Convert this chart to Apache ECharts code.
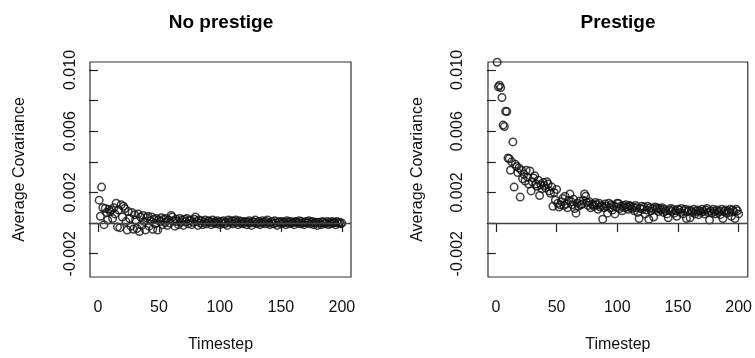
<!DOCTYPE html>
<html>
<head>
<meta charset="utf-8">
<script src="https://cdn.jsdelivr.net/npm/echarts@6/dist/echarts.min.js"></script>
<style>
html,body{margin:0;padding:0;background:#fff;}
#chart{width:755px;height:358px;}
</style>
</head>
<body>
<div id="chart"></div>
<script>
const timesteps = [1,2,3,4,5,6,7,8,9,10,11,12,13,14,15,16,17,18,19,20,
21,22,23,24,25,26,27,28,29,30,31,32,33,34,35,36,37,38,39,40,
41,42,43,44,45,46,47,48,49,50,51,52,53,54,55,56,57,58,59,60,
61,62,63,64,65,66,67,68,69,70,71,72,73,74,75,76,77,78,79,80,
81,82,83,84,85,86,87,88,89,90,91,92,93,94,95,96,97,98,99,100,
101,102,103,104,105,106,107,108,109,110,111,112,113,114,115,116,117,118,119,120,
121,122,123,124,125,126,127,128,129,130,131,132,133,134,135,136,137,138,139,140,
141,142,143,144,145,146,147,148,149,150,151,152,153,154,155,156,157,158,159,160,
161,162,163,164,165,166,167,168,169,170,171,172,173,174,175,176,177,178,179,180,
181,182,183,184,185,186,187,188,189,190,191,192,193,194,195,196,197,198,199,200];

const noPrestige = [
0.00150, 0.00045, 0.00235, 0.00100, -0.00010, 0.00095, 0.00070, 0.00020, 0.00090, 0.00075,
0.00085, 0.00030, 0.00100, 0.00060, 0.00130, -0.00025, 0.00085, -0.00030, 0.00120, 0.00040,
0.00110, 0.00095, 0.00010, -0.00045, 0.00075, 0.00030, -0.00020, 0.00070, -0.00040, 0.00055,
0.00020, -0.00035, 0.00060, -0.00055, 0.00040, -0.00015, 0.00050, 0.00010, -0.00045, 0.00035,
0.00045, -0.00020, 0.00015, 0.00040, -0.00040, 0.00025, -0.00005, 0.00030, -0.00045, 0.00020,
0.00010, 0.00035, -0.00010, 0.00025, 0.00005, 0.00030, -0.00015, 0.00020, 0.00000, 0.00050,
0.00040, 0.00015, -0.00020, 0.00025, 0.00010, -0.00010, 0.00030, 0.00005, 0.00020, -0.00015,
0.00025, 0.00010, 0.00030, -0.00005, 0.00015, 0.00020, -0.00010, 0.00005, 0.00025, 0.00040,
0.00010, -0.00015, 0.00020, 0.00000, 0.00015, -0.00010, 0.00005, 0.00020, -0.00005, 0.00010,
0.00015, 0.00005, -0.00010, 0.00020, 0.00000, 0.00010, -0.00005, 0.00015, 0.00005, -0.00010,
0.00010, 0.00000, 0.00015, -0.00005, 0.00005, -0.00015, 0.00020, 0.00010, 0.00000, 0.00015,
-0.00005, 0.00010, 0.00020, 0.00005, -0.00010, 0.00015, 0.00000, 0.00010, -0.00005, 0.00005,
0.00010, -0.00010, 0.00005, 0.00015, 0.00000, -0.00015, 0.00010, 0.00005, 0.00020, -0.00005,
0.00005, 0.00010, -0.00010, 0.00000, 0.00015, 0.00005, -0.00005, 0.00010, 0.00020, 0.00000,
-0.00010, 0.00005, 0.00010, -0.00005, 0.00015, 0.00000, -0.00015, 0.00005, 0.00010, -0.00005,
0.00010, 0.00000, 0.00005, -0.00010, 0.00015, 0.00005, -0.00005, 0.00010, 0.00000, 0.00005,
-0.00010, 0.00010, 0.00005, 0.00000, 0.00015, -0.00005, 0.00010, 0.00000, -0.00010, 0.00005,
0.00010, 0.00000, 0.00015, -0.00005, 0.00005, 0.00010, -0.00010, 0.00000, 0.00005, -0.00015,
0.00005, 0.00000, -0.00010, 0.00010, 0.00005, -0.00005, 0.00000, 0.00010, -0.00010, 0.00005,
-0.00005, 0.00010, 0.00000, 0.00005, -0.00010, 0.00010, 0.00000, 0.00005, -0.00005, 0.00000
];

const prestige = [
0.01050, 0.00890, 0.00900, 0.00885, 0.00820, 0.00640, 0.00630, 0.00730, 0.00728, 0.00425,
0.00420, 0.00345, 0.00400, 0.00530, 0.00235, 0.00385, 0.00370, 0.00330, 0.00360, 0.00170,
0.00345, 0.00290, 0.00320, 0.00275, 0.00345, 0.00300, 0.00255, 0.00340, 0.00210, 0.00270,
0.00295, 0.00310, 0.00255, 0.00240, 0.00280, 0.00180, 0.00250, 0.00225, 0.00265, 0.00245,
0.00230, 0.00270, 0.00255, 0.00210, 0.00195, 0.00235, 0.00110, 0.00200, 0.00150, 0.00220,
0.00130, 0.00105, 0.00120, 0.00140, 0.00160, 0.00115, 0.00175, 0.00125, 0.00100, 0.00150,
0.00190, 0.00140, 0.00120, 0.00155, 0.00095, 0.00065, 0.00130, 0.00110, 0.00145, 0.00120,
0.00125, 0.00150, 0.00190, 0.00175, 0.00135, 0.00115, 0.00140, 0.00100, 0.00125, 0.00120,
0.00110, 0.00135, 0.00120, 0.00090, 0.00130, 0.00105, 0.00115, 0.00025, 0.00100, 0.00125,
0.00110, 0.00065, 0.00130, 0.00100, 0.00120, 0.00085, 0.00115, 0.00060, 0.00105, 0.00130,
0.00128, 0.00095, 0.00110, 0.00080, 0.00115, 0.00100, 0.00120, 0.00105, 0.00090, 0.00115,
0.00110, 0.00095, 0.00105, 0.00080, 0.00115, 0.00100, 0.00070, 0.00030, 0.00095, 0.00110,
0.00090, 0.00105, 0.00060, 0.00085, 0.00110, 0.00025, 0.00100, 0.00080, 0.00095, 0.00040,
0.00105, 0.00090, 0.00100, 0.00075, 0.00095, 0.00085, 0.00100, 0.00070, 0.00090, 0.00080,
0.00060, 0.00035, 0.00085, 0.00095, 0.00075, 0.00090, 0.00065, 0.00080, 0.00045, 0.00090,
0.00085, 0.00070, 0.00095, 0.00060, 0.00080, 0.00090, 0.00030, 0.00075, 0.00085, 0.00035,
0.00080, 0.00070, 0.00090, 0.00060, 0.00075, 0.00085, 0.00055, 0.00080, 0.00070, 0.00090,
0.00075, 0.00060, 0.00085, 0.00095, 0.00070, 0.00020, 0.00080, 0.00065, 0.00090, 0.00075,
0.00060, 0.00085, 0.00070, 0.00080, 0.00055, 0.00090, 0.00030, 0.00075, 0.00085, 0.00065,
0.00080, 0.00070, 0.00090, 0.00045, 0.00085, 0.00075, 0.00030, 0.00090, 0.00080, 0.00060
];

const panelTitles = ['No prestige', 'Prestige'];
const xTickValues = [0, 50, 100, 150, 200];
const yTickValues = [-0.002, 0, 0.002, 0.004, 0.006, 0.008, 0.010];
const yLabelValues = [-0.002, 0.002, 0.006, 0.010];
const xName = 'Timestep';
const yName = 'Average Covariance';

const FONT = 'Liberation Sans, Arial, Helvetica, sans-serif';
const chart = echarts.init(document.getElementById('chart'), null, {renderer: 'canvas'});

const grids = [
  {left: 90, top: 62, width: 261, height: 219},
  {left: 488, top: 62, width: 261, height: 219}
];
const yLabelMargins = [11.5, 22.5];

function xAxisFor(i) {
  return {
    type: 'value', gridIndex: i, min: -6.5, max: 207.5,
    name: xName, nameLocation: 'middle', nameGap: 60,
    nameTextStyle: {fontFamily: FONT, fontSize: 16, color: '#111'},
    axisLine: {show: false},
    splitLine: {show: false},
    axisTick: {show: true, length: 9, customValues: xTickValues, lineStyle: {color: '#222', width: 1.2}},
    axisLabel: {show: true, margin: 23, customValues: xTickValues, fontFamily: FONT, fontSize: 16, color: '#111'}
  };
}
function yAxisFor(i) {
  return {
    type: 'value', gridIndex: i, min: -0.00352, max: 0.01052,
    name: yName, nameLocation: 'middle', nameGap: 62,
    nameTextStyle: {fontFamily: FONT, fontSize: 16, color: '#111'},
    axisLine: {show: false},
    splitLine: {show: false},
    axisTick: {show: true, length: 9, customValues: yTickValues, lineStyle: {color: '#222', width: 1.2}},
    axisLabel: {show: true, rotate: 90, margin: yLabelMargins[i], customValues: yLabelValues,
      fontFamily: FONT, fontSize: 16, color: '#111',
      formatter: v => v.toFixed(3)}
  };
}
function seriesFor(i, values) {
  return {
    type: 'scatter', xAxisIndex: i, yAxisIndex: i,
    symbol: 'circle', symbolSize: 7.5,
    itemStyle: {color: 'rgba(0,0,0,0)', borderColor: '#111', borderWidth: 1.5},
    data: timesteps.map((t, k) => [t, values[k]]),
    markLine: {
      silent: true, symbol: ['none', 'none'], label: {show: false},
      lineStyle: {type: 'solid', color: '#444', width: 1.4},
      data: [{yAxis: 0}]
    }
  };
}

chart.setOption({
  animation: false,
  backgroundColor: '#fff',
  title: [
    {text: panelTitles[0], left: 221, top: 13.5, textAlign: 'center', padding: 0,
     textStyle: {fontFamily: FONT, fontSize: 19, fontWeight: 'bold', color: '#000'}},
    {text: panelTitles[1], left: 618, top: 13.5, textAlign: 'center', padding: 0,
     textStyle: {fontFamily: FONT, fontSize: 19, fontWeight: 'bold', color: '#000'}}
  ],
  grid: grids.map(g => Object.assign({show: true, borderColor: '#333', borderWidth: 1.2, backgroundColor: 'transparent', containLabel: false}, g)),
  xAxis: [xAxisFor(0), xAxisFor(1)],
  yAxis: [yAxisFor(0), yAxisFor(1)],
  series: [seriesFor(0, noPrestige), seriesFor(1, prestige)]
});
</script>
</body>
</html>
